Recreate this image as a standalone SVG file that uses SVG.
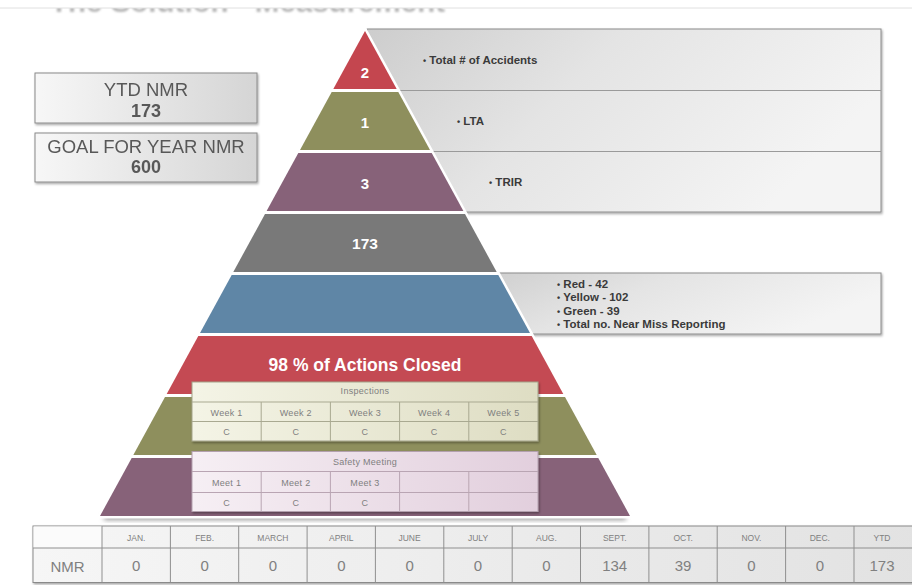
<svg xmlns="http://www.w3.org/2000/svg" width="912" height="585" viewBox="0 0 912 585">
  <style>
    text { font-family: "Liberation Sans", Arial, sans-serif; }
    .band-label { fill: #ffffff; font-weight: bold; text-anchor: middle; }
    .bullet { fill: #3a3a3a; font-weight: bold; font-size: 11.5px; }
    .dot { font-size: 9px; }
    .kpi { fill: #595959; text-anchor: middle; }
    .cell { fill: #7f7f7f; font-size: 9px; letter-spacing: 0.3px; text-anchor: middle; }
    .mhead { fill: #808080; font-size: 8.5px; text-anchor: middle; }
    .mval { fill: #808080; font-size: 15px; text-anchor: middle; }
    .grid-insp { stroke: #a9a991; stroke-width: 1; fill: none; }
    .grid-meet { stroke: #b9a5b3; stroke-width: 1; fill: none; }
    .grid-month { stroke: #8f8f8f; stroke-width: 1; fill: none; }
  </style>
  <defs>
    <linearGradient id="calloutFill" x1="0" y1="0" x2="1" y2="0.35">
      <stop offset="0" stop-color="#cdcdcd"/>
      <stop offset="0.45" stop-color="#e4e4e4"/>
      <stop offset="1" stop-color="#f4f4f4"/>
    </linearGradient>
    <linearGradient id="kpiFill" x1="0" y1="0" x2="1" y2="0">
      <stop offset="0" stop-color="#f7f7f7"/>
      <stop offset="1" stop-color="#d5d5d5"/>
    </linearGradient>
    <linearGradient id="inspFill" x1="0" y1="0" x2="1" y2="0">
      <stop offset="0" stop-color="#f4f4e6"/>
      <stop offset="1" stop-color="#deddc3"/>
    </linearGradient>
    <linearGradient id="meetFill" x1="0" y1="0" x2="1" y2="0">
      <stop offset="0" stop-color="#f6eff4"/>
      <stop offset="1" stop-color="#e2cfdd"/>
    </linearGradient>
    <linearGradient id="monthFill" x1="0" y1="0" x2="1" y2="0">
      <stop offset="0" stop-color="#f6f6f6"/>
      <stop offset="1" stop-color="#e2e2e2"/>
    </linearGradient>
    <filter id="shadow" x="-5%" y="-10%" width="110%" height="130%">
      <feDropShadow dx="1" dy="1.5" stdDeviation="1.2" flood-color="#000" flood-opacity="0.35"/>
    </filter>
    <filter id="soft" x="-10%" y="-50%" width="120%" height="200%">
      <feGaussianBlur stdDeviation="2.5"/>
    </filter>
    <filter id="haze" x="-5%" y="-50%" width="110%" height="200%">
      <feGaussianBlur stdDeviation="1.3"/>
    </filter>
  </defs>

  <rect width="912" height="585" fill="#ffffff"/>

  <!-- slide heading, only its lower edge shows below the rule -->
  <g id="title">
    <text x="50" y="12" font-size="29.5" font-weight="bold" fill="#b8b8b8" filter="url(#haze)">The Solution - Measurement</text>
    <rect x="0" y="0" width="912" height="8" fill="#ffffff"/>
    <line x1="0" y1="8" x2="912" y2="8" stroke="#e0e0e0" stroke-width="1"/>
  </g>

  <!-- KPI boxes -->
  <g id="box-ytd" filter="url(#shadow)">
    <rect x="35" y="73" width="222" height="50" fill="url(#kpiFill)" stroke="#8a8a8a"/>
    <text class="kpi" x="146" y="96" font-size="18.5">YTD NMR</text>
    <text class="kpi" x="146" y="117" font-size="18" font-weight="bold">173</text>
  </g>
  <g id="box-goal" filter="url(#shadow)">
    <rect x="35" y="133" width="222" height="49" fill="url(#kpiFill)" stroke="#8a8a8a"/>
    <text class="kpi" x="146" y="153" font-size="18.5">GOAL FOR YEAR NMR</text>
    <text class="kpi" x="146" y="173" font-size="18" font-weight="bold">600</text>
  </g>

  <!-- callout panels behind the pyramid -->
  <g id="callout-top" filter="url(#shadow)">
    <rect x="367" y="29" width="514" height="183" fill="url(#calloutFill)" stroke="#8c8c8c"/>
    <line x1="367" y1="90.5" x2="881" y2="90.5" stroke="#9a9a9a"/>
    <line x1="367" y1="151.5" x2="881" y2="151.5" stroke="#9a9a9a"/>
  </g>
  <g id="callout-top-text">
    <text class="bullet" x="423" y="64"><tspan class="dot">•</tspan> Total # of Accidents</text>
    <text class="bullet" x="457" y="125"><tspan class="dot">•</tspan> LTA</text>
    <text class="bullet" x="489" y="186"><tspan class="dot">•</tspan> TRIR</text>
  </g>
  <g id="callout-nmr">
    <rect x="470" y="273" width="411" height="61" fill="url(#calloutFill)" stroke="#8c8c8c" filter="url(#shadow)"/>
    <text class="bullet" x="557" y="287.5"><tspan class="dot">•</tspan> Red - 42</text>
    <text class="bullet" x="557" y="301"><tspan class="dot">•</tspan> Yellow - 102</text>
    <text class="bullet" x="557" y="314.5"><tspan class="dot">•</tspan> Green - 39</text>
    <text class="bullet" x="557" y="328"><tspan class="dot">•</tspan> Total no. Near Miss Reporting</text>
  </g>

  <!-- pyramid -->
  <g id="pyramid">
    <rect x="104" y="514" width="522" height="6" fill="#9a9a9a" filter="url(#soft)"/>
    <polygon points="365,31 630,516 100,516" fill="#ffffff" stroke="#ffffff" stroke-width="5" stroke-linejoin="miter"/>
    <g id="band-accidents">
      <polygon points="365,31 396.7,89 333.3,89" fill="#c4464f"/>
      <text class="band-label" x="365" y="77.5" font-size="15">2</text>
    </g>
    <g id="band-lta">
      <polygon points="331.7,92 398.3,92 430,150 300,150" fill="#8e8f5d"/>
      <text class="band-label" x="365" y="127.5" font-size="15">1</text>
    </g>
    <g id="band-trir">
      <polygon points="298.3,153 431.7,153 463.4,211 266.6,211" fill="#876279"/>
      <text class="band-label" x="365" y="188.5" font-size="15">3</text>
    </g>
    <g id="band-nmr">
      <polygon points="265,214 465,214 496.7,272 233.3,272" fill="#797979"/>
      <text class="band-label" x="365" y="248.5" font-size="15.5">173</text>
    </g>
    <g id="band-colors">
      <polygon points="231.7,275 498.3,275 530,333 200,333" fill="#5f86a6"/>
    </g>
    <g id="band-actions">
      <polygon points="198.3,336 531.7,336 563.3,394 166.7,394" fill="#c44a53"/>
      <text class="band-label" x="365" y="370.5" font-size="17.5" fill="#f6f6f6">98 % of Actions Closed</text>
    </g>
    <g id="band-inspections">
      <polygon points="165,397 565,397 596.7,455 133.3,455" fill="#8e8f5d"/>
    </g>
    <g id="band-meetings">
      <polygon points="131.7,458 598.3,458 630,516 100,516" fill="#876279"/>
    </g>
  </g>

  <!-- weekly inspections grid -->
  <g id="table-inspections">
    <rect x="192" y="382" width="346" height="59" fill="url(#inspFill)" stroke="#a3a38a" filter="url(#shadow)"/>
    <path class="grid-insp" d="M192,402H538M192,421.5H538M261.2,402V441M330.4,402V441M399.6,402V441M468.8,402V441"/>
    <text class="cell" x="365" y="393.5">Inspections</text>
    <text class="cell" x="226.6" y="415.5">Week 1</text>
    <text class="cell" x="295.8" y="415.5">Week 2</text>
    <text class="cell" x="365" y="415.5">Week 3</text>
    <text class="cell" x="434.2" y="415.5">Week 4</text>
    <text class="cell" x="503.4" y="415.5">Week 5</text>
    <text class="cell" x="226.6" y="435">C</text>
    <text class="cell" x="295.8" y="435">C</text>
    <text class="cell" x="365" y="435">C</text>
    <text class="cell" x="434.2" y="435">C</text>
    <text class="cell" x="503.4" y="435">C</text>
  </g>

  <!-- safety meetings grid -->
  <g id="table-meetings">
    <rect x="192" y="451.5" width="346" height="60" fill="url(#meetFill)" stroke="#b3a0ae" filter="url(#shadow)"/>
    <path class="grid-meet" d="M192,471.5H538M192,492.5H538M261.2,471.5V511.5M330.4,471.5V511.5M399.6,471.5V511.5M468.8,471.5V511.5"/>
    <text class="cell" x="365" y="464.5">Safety  Meeting</text>
    <text class="cell" x="226.6" y="485.5">Meet 1</text>
    <text class="cell" x="295.8" y="485.5">Meet 2</text>
    <text class="cell" x="365" y="485.5">Meet 3</text>
    <text class="cell" x="226.6" y="505.5">C</text>
    <text class="cell" x="295.8" y="505.5">C</text>
    <text class="cell" x="365" y="505.5">C</text>
  </g>

  <!-- monthly NMR table -->
  <g id="table-monthly">
    <rect x="33" y="526" width="890" height="56.5" fill="url(#monthFill)" stroke="#8a8a8a" filter="url(#shadow)"/>
    <rect x="33.5" y="526.5" width="68.5" height="21.5" fill="#fbfbfb"/>
    <path class="grid-month" d="M33,548H912M102,526V582.5M170.4,526V582.5M238.7,526V582.5M307.1,526V582.5M375.4,526V582.5M443.8,526V582.5M512.2,526V582.5M580.5,526V582.5M648.9,526V582.5M717.2,526V582.5M785.6,526V582.5M854,526V582.5"/>
    <text class="mhead" x="136.2" y="541">JAN.</text>
    <text class="mhead" x="204.6" y="541">FEB.</text>
    <text class="mhead" x="272.9" y="541">MARCH</text>
    <text class="mhead" x="341.3" y="541">APRIL</text>
    <text class="mhead" x="409.6" y="541">JUNE</text>
    <text class="mhead" x="478" y="541">JULY</text>
    <text class="mhead" x="546.4" y="541">AUG.</text>
    <text class="mhead" x="614.7" y="541">SEPT.</text>
    <text class="mhead" x="683.1" y="541">OCT.</text>
    <text class="mhead" x="751.4" y="541">NOV.</text>
    <text class="mhead" x="819.8" y="541">DEC.</text>
    <text class="mhead" x="882" y="541">YTD</text>
    <text class="mval" x="67.5" y="571.5" font-size="16">NMR</text>
    <text class="mval" x="136.2" y="571">0</text>
    <text class="mval" x="204.6" y="571">0</text>
    <text class="mval" x="272.9" y="571">0</text>
    <text class="mval" x="341.3" y="571">0</text>
    <text class="mval" x="409.6" y="571">0</text>
    <text class="mval" x="478" y="571">0</text>
    <text class="mval" x="546.4" y="571">0</text>
    <text class="mval" x="614.7" y="571">134</text>
    <text class="mval" x="683.1" y="571">39</text>
    <text class="mval" x="751.4" y="571">0</text>
    <text class="mval" x="819.8" y="571">0</text>
    <text class="mval" x="882" y="571">173</text>
  </g>
</svg>
